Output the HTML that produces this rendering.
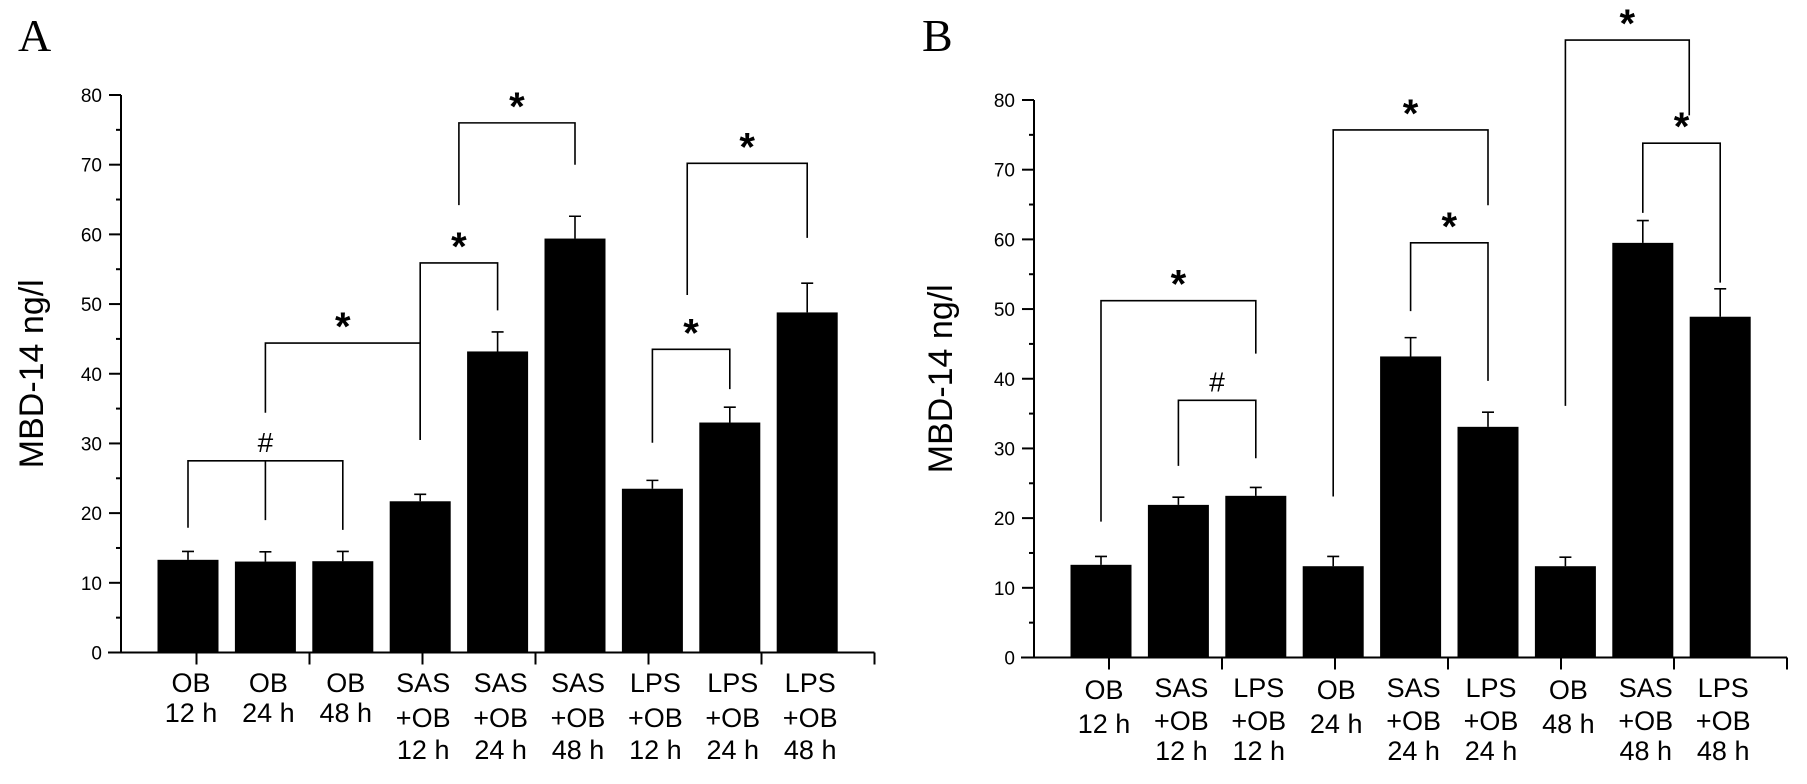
<!DOCTYPE html>
<html><head><meta charset="utf-8"><style>
html,body{margin:0;padding:0;background:#fff;}
svg{display:block;font-family:"Liberation Sans",Arial,sans-serif;}
</style></head><body>
<svg id="fig" width="1807" height="784" viewBox="0 0 1807 784"></svg>
<script>
// ---- Panel A data ----
const catsA = [["OB","12 h"],["OB","24 h"],["OB","48 h"],["SAS","+OB","12 h"],["SAS","+OB","24 h"],["SAS","+OB","48 h"],["LPS","+OB","12 h"],["LPS","+OB","24 h"],["LPS","+OB","48 h"]];
const valsA = [13.3,13.05,13.1,21.7,43.2,59.4,23.5,33.0,48.8];
const errA = [1.2,1.4,1.4,1.0,2.8,3.2,1.2,2.2,4.2];
// ---- Panel B data ----
const catsB = [["OB","12 h"],["SAS","+OB","12 h"],["LPS","+OB","12 h"],["OB","24 h"],["SAS","+OB","24 h"],["LPS","+OB","24 h"],["OB","48 h"],["SAS","+OB","48 h"],["LPS","+OB","48 h"]];
const valsB = [13.3,21.9,23.2,13.1,43.2,33.1,13.1,59.5,48.9];
const errB = [1.2,1.1,1.2,1.4,2.7,2.1,1.3,3.2,4.0];
const yTicks = [0,10,20,30,40,50,60,70,80];
// brackets: [barLeft, barRight, level, leftEnd, rightEnd, symbol]
const brA = [[0,2,27.5,17.9,17.6,"#",1],[1,3,44.4,34.4,30.5,"*"],[3,4,55.9,30.5,49.1,"*"],[3.5,5,76,64.2,70,"*"],[6,7,43.5,30.1,37.8,"*"],[6.45,8,70.2,51.3,59.5,"*"]];
const brB = [[0,2,51.2,19.5,43.6,"*"],[1,2,36.9,27.5,28.6,"#"],[3,5,75.7,23.1,64.9,"*"],[4,5,59.5,49.7,39.7,"*"],[6,7.6,88.6,36.1,77.8,"*"],[7,8,73.8,63.8,53.8,"*"]];

const NS="http://www.w3.org/2000/svg";
const svg=document.getElementById('fig');
function el(t,a,p){const e=document.createElementNS(NS,t);for(const k in a)e.setAttribute(k,a[k]);(p||svg).appendChild(e);return e;}

function panel(o){
  const g=el('g',{});
  
  
  const y=v=>o.y0-(o.y0-o.y80)*v/80;
  const x=i=>o.c0+i*77.4;
  const L=el('text',{x:o.letterX,y:51,'font-family':'"Liberation Serif",serif','font-size':46},g);
  L.textContent=o.id;
  
  
  const ax=el('path',{d:`M${o.ax} ${o.y80} V${o.y0} M${o.ax-13} ${o.y0} H${o.tk0+113*6}`,stroke:'#000','stroke-width':2,fill:'none'},g);
  
  
  for(let k=0;k<=6;k++){const t=el('line',{x1:o.tk0+113*k,x2:o.tk0+113*k,y1:o.y0,y2:o.y0+12,stroke:'#000','stroke-width':2},g);
    
    }
  for(let v=0;v<=80;v+=5){const maj=v%10==0;
    const t=el('line',{x1:o.ax-(maj?12:5),x2:o.ax,y1:y(v),y2:y(v),stroke:'#000','stroke-width':2},g);
    
    }
  yTicks.forEach(v=>{const t=el('text',{x:o.ax-19,y:y(v)+7,'font-size':19,'text-anchor':'end'},g);t.textContent=v;
    
    });
  const yt=el('text',{transform:`translate(${o.ytx},${(o.y0+o.y80)/2}) rotate(-90)`,'font-size':34,'text-anchor':'middle'},g);
  yt.textContent='MBD-14 ng/l';
  
  
  o.vals.forEach((v,i)=>{
    const r=el('rect',{x:x(i)-30.5,y:y(v),width:61,height:o.y0-y(v),fill:'#000'},g);
    
    
    const e=el('path',{d:`M${x(i)} ${y(v)} V${y(v+o.err[i])} M${x(i)-6} ${y(v+o.err[i])} H${x(i)+6}`,stroke:'#000','stroke-width':1.6,fill:'none'},g);
    
    
    const lines=o.cats[i];
    const t=el('text',{'font-size':27,'text-anchor':'middle'},g);
    
    
    lines.forEach((s,j)=>{const ts=el('tspan',{x:x(i)+3,y:(lines.length==2?o.lb2:o.lb3)[j]},t);ts.textContent=s;});
  });
  o.br.forEach(b=>{
    const xl=x(b[0]),xr=x(b[1]);
    const p=el('path',{d:`M${xl} ${y(b[3])} V${y(b[2])} H${xr} V${y(b[4])}`+(b[6]?` M${(xl+xr)/2} ${y(b[2])} V${y(19)}`:''),stroke:'#000','stroke-width':1.6,fill:'none'},g);
    
    
    const star=b[5]=='*';
    const t=el('text',{x:(xl+xr)/2,y:star?y(b[2])-3:y(b[2])-9,'font-size':star?40:28,'font-weight':star?'bold':'normal','text-anchor':'middle'},g);
    t.textContent=b[5];
    
    
  });
}
panel({id:'A',letterX:18,ax:121,y0:652.5,y80:95,c0:188,tk0:196.5,ytx:43,vals:valsA,err:errA,cats:catsA,br:brA,lb2:[692,722],lb3:[692,727,759]});
panel({id:'B',letterX:922,ax:1034,y0:657.5,y80:100,c0:1101,tk0:1109,ytx:952,vals:valsB,err:errB,cats:catsB,br:brB,lb2:[699,733],lb3:[697,730,760]});
</script>
</body></html>
